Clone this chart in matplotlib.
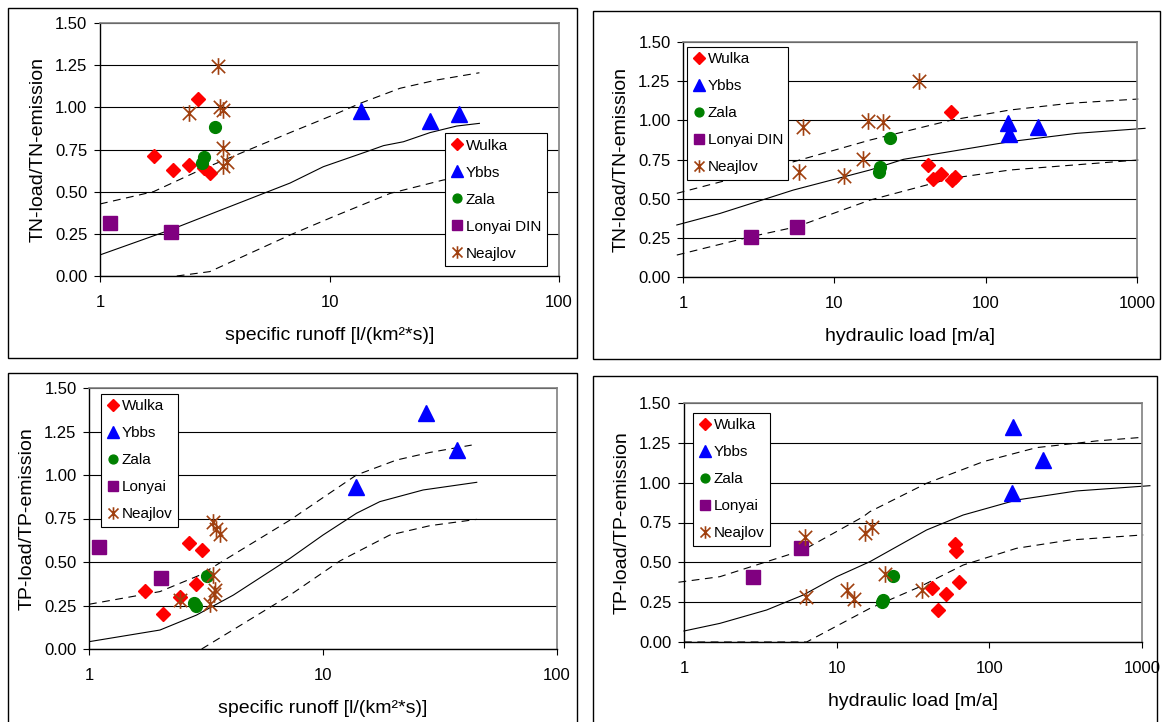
import matplotlib
matplotlib.use('Agg')
import matplotlib.pyplot as plt
import numpy as np
from matplotlib.path import Path
from matplotlib.patches import Rectangle
from matplotlib.ticker import NullLocator

plt.rcParams['font.family'] = ['Liberation Sans', 'DejaVu Sans']

# ---- data: TN ratio vs specific runoff ----
wulka_q1 = [1.72, 2.07, 2.44, 2.68, 2.84, 3.01]
wulka_tn1 = [0.71, 0.63, 0.66, 1.05, 0.64, 0.61]
ybbs_q1 = [13.7, 27.4, 36.8]
ybbs_tn1 = [0.98, 0.92, 0.96]
zala_q1 = [3.17, 2.84, 2.79]
zala_tn1 = [0.885, 0.707, 0.672]
lonyai_q1 = [1.105, 2.04]
lonyai_tn1 = [0.316, 0.263]
neajlov_q1 = [2.45, 3.28, 3.35, 3.42, 3.42, 3.57, 3.42]
neajlov_tn1 = [0.965, 1.247, 1.0, 0.985, 0.757, 0.678, 0.654]
mid_x1 = [1.0, 2.02, 3.1, 6.73, 9.4, 14.5, 17.2, 21, 27.4, 35.8, 45]
mid_y1 = [0.125, 0.273, 0.372, 0.551, 0.648, 0.737, 0.773, 0.796, 0.85, 0.889, 0.905]
up_x1 = [1.0, 1.71, 2.73, 6.73, 10.4, 13.8, 20.3, 29.3, 45]
up_y1 = [0.427, 0.5, 0.628, 0.85, 0.955, 1.027, 1.113, 1.162, 1.205]
low_x1 = [2.16, 3.01, 6.73, 10.4, 18.4, 31.3, 45]
low_y1 = [0.0, 0.026, 0.243, 0.352, 0.49, 0.569, 0.6]

# ---- data: TN ratio vs hydraulic load ----
wulka_h2 = [58.8, 41.8, 45.1, 50.7, 59.7, 62.8]
wulka_tn2 = [1.055, 0.715, 0.626, 0.655, 0.619, 0.636]
ybbs_h2 = [140, 143.5, 223]
ybbs_tn2 = [0.98, 0.91, 0.96]
zala_h2 = [23.3, 20.0, 19.8]
zala_tn2 = [0.885, 0.70, 0.67]
lonyai_h2 = [2.8, 5.69]
lonyai_tn2 = [0.257, 0.317]
neajlov_h2 = [6.24, 5.87, 11.5, 15.4, 16.8, 21.1, 36.5]
neajlov_tn2 = [0.959, 0.672, 0.645, 0.751, 0.998, 0.991, 1.253]
mid_x2 = [0.91, 1.76, 5.36, 17.2, 28.6, 50, 145, 400, 1130]
mid_y2 = [0.332, 0.406, 0.555, 0.683, 0.751, 0.79, 0.864, 0.917, 0.949]
up_x2 = [0.91, 2.64, 17.2, 59.7, 145, 361, 1020]
up_y2 = [0.534, 0.651, 0.874, 1.002, 1.066, 1.109, 1.136]
low_x2 = [0.91, 2.8, 5.65, 17.2, 59.7, 145, 1020]
low_y2 = [0.14, 0.257, 0.321, 0.491, 0.63, 0.683, 0.747]

# ---- data: TP ratio vs specific runoff ----
wulka_q3 = [1.735, 2.08, 2.45, 2.67, 2.88, 3.04]
wulka_tp3 = [0.333, 0.199, 0.297, 0.611, 0.374, 0.569]
ybbs_q3 = [27.6, 37.3, 13.8]
ybbs_tp3 = [1.355, 1.144, 0.933]
zala_q3 = [2.82, 2.87, 3.18]
zala_tp3 = [0.265, 0.25, 0.419]
lonyai_q3 = [1.107, 2.04]
lonyai_tp3 = [0.588, 0.406]
neajlov_q3 = [3.4, 3.49, 3.63, 3.4, 3.45, 3.43, 3.29, 2.45]
neajlov_tp3 = [0.732, 0.69, 0.661, 0.425, 0.339, 0.314, 0.259, 0.282]
mid_x3 = [1.0, 2.01, 2.88, 4.14, 7.23, 10.0, 13.9, 17.5, 26.8, 45.4]
mid_y3 = [0.042, 0.109, 0.195, 0.31, 0.521, 0.655, 0.78, 0.847, 0.914, 0.958]
up_x3 = [1.0, 2.01, 2.98, 7.23, 10.0, 13.9, 20.6, 28.7, 43.2]
up_y3 = [0.257, 0.33, 0.425, 0.741, 0.87, 1.0, 1.086, 1.13, 1.172]
low_x3 = [3.03, 7.23, 11.8, 19.3, 28.7, 45.4]
low_y3 = [0.0, 0.31, 0.506, 0.655, 0.709, 0.745]

# ---- data: TP ratio vs hydraulic load ----
wulka_h4 = [41.9, 45.9, 52, 59.5, 60.4, 63.2]
wulka_tp4 = [0.337, 0.201, 0.299, 0.613, 0.573, 0.375]
ybbs_h4 = [143.5, 225, 140]
ybbs_tp4 = [1.351, 1.142, 0.933]
zala_h4 = [23.5, 20.0, 19.7]
zala_tp4 = [0.416, 0.264, 0.25]
lonyai_h4 = [2.82, 5.81]
lonyai_tp4 = [0.406, 0.588]
neajlov_h4 = [6.2, 6.27, 11.6, 12.9, 15.3, 17.0, 20.7, 36.4]
neajlov_tp4 = [0.661, 0.284, 0.326, 0.27, 0.686, 0.722, 0.425, 0.326]
mid_x4 = [1.0, 1.72, 3.48, 6.04, 10, 16.5, 38.8, 67.4, 150.6, 373, 1127]
mid_y4 = [0.069, 0.117, 0.201, 0.295, 0.41, 0.504, 0.703, 0.797, 0.891, 0.948, 0.981]
up_x4 = [0.92, 1.72, 3.48, 6.04, 14.9, 16.5, 38.8, 91.4, 204, 505, 1019]
up_y4 = [0.375, 0.41, 0.504, 0.577, 0.786, 0.818, 0.996, 1.132, 1.22, 1.262, 1.285]
low_x4 = [1.0, 6.36, 16.5, 35.1, 67.4, 150.6, 337, 1019]
low_y4 = [0.0, 0.0, 0.211, 0.347, 0.483, 0.588, 0.64, 0.672]

W, H = 1162, 722
fig = plt.figure(figsize=(W / 100, H / 100), dpi=100)

# asterisk marker like the spreadsheet one
star = Path([(-0.8, -0.8), (0.8, 0.8), (-0.8, 0.8), (0.8, -0.8), (0, -1), (0, 1)],
            [Path.MOVETO, Path.LINETO] * 3)


def frame(x0, y0, x1, y1):
    fig.add_artist(Rectangle((x0 / W, 1 - y1 / H), (x1 - x0) / W, (y1 - y0) / H,
                             transform=fig.transFigure, fill=False,
                             ec='black', lw=1.0))


def panel(box, xmax, ylabel, xlabel, pts, curves, lonyai_name, leg_anchor, leg_loc, clip):
    l, r, t, b = box
    ax = fig.add_axes([l / W, 1 - b / H, (r - l) / W, (b - t) / H])
    ax.set_xscale('log')
    ax.set_xlim(1, xmax)
    ax.set_ylim(0, 1.5)

    mx, my, ux, uy, lx, ly = curves
    ax.plot(mx, my, color='black', lw=0.8, zorder=2, clip_on=clip)
    for cx, cy in [(ux, uy), (lx, ly)]:
        ln, = ax.plot(cx, cy, color='black', lw=0.8, zorder=2, clip_on=clip)
        ln.set_dashes((7, 5))

    (wx, wy), (yx, yy), (zx, zy), (lox, loy), (nx, ny) = pts
    h1, = ax.plot(wx, wy, ls='none', marker='D', ms=7.5, color='#FF0000', label='Wulka', zorder=3)
    h2, = ax.plot(yx, yy, ls='none', marker='^', ms=11, color='#0000FF', label='Ybbs', zorder=3)
    h3, = ax.plot(zx, zy, ls='none', marker='o', ms=8.5, color='#008000', label='Zala', zorder=3)
    h4, = ax.plot(lox, loy, ls='none', marker='s', ms=9.5, color='#800080', label=lonyai_name, zorder=3)
    h5, = ax.plot(nx, ny, ls='none', marker=star, ms=12, mew=1.2, fillstyle='none',
                  color='#A0400F', label='Neajlov', zorder=3)

    ax.set_yticks(np.arange(0, 1.51, 0.25))
    ax.yaxis.set_major_formatter('{x:.2f}')
    ticks = [t_ for t_ in [1, 10, 100, 1000] if t_ <= xmax]
    ax.set_xticks(ticks)
    ax.set_xticklabels([str(t_) for t_ in ticks])
    ax.xaxis.set_minor_locator(NullLocator())
    ax.grid(axis='y', color='black', lw=0.8)
    ax.set_axisbelow(True)
    for s in ['top', 'right']:
        ax.spines[s].set_color('#808080')
        ax.spines[s].set_linewidth(1.2)
    for s in ['left', 'bottom']:
        ax.spines[s].set_linewidth(1.0)
    ax.tick_params(direction='out', length=4, width=0.8, labelsize=12)
    ax.tick_params(axis='x', pad=10)
    ax.tick_params(axis='y', pad=5)
    ax.set_ylabel(ylabel, fontsize=14, labelpad=6)
    ax.set_xlabel(xlabel, fontsize=14, labelpad=12)

    leg = ax.legend(handles=[h1, h2, h3, h4, h5], loc=leg_loc, bbox_to_anchor=leg_anchor,
                    fontsize=11, markerscale=0.75, handlelength=0.8, handletextpad=0.2,
                    labelspacing=0.85, borderpad=0.35, borderaxespad=0, fancybox=False,
                    framealpha=1, edgecolor='black')
    leg.get_frame().set_linewidth(0.8)
    leg.set_zorder(5)
    return ax


runoff_lbl = 'specific runoff [l/(km²*s)]'
hydr_lbl = 'hydraulic load [m/a]'

panel((100, 559, 23, 276), 100, 'TN-load/TN-emission', runoff_lbl,
      [(wulka_q1, wulka_tn1), (ybbs_q1, ybbs_tn1), (zala_q1, zala_tn1),
       (lonyai_q1, lonyai_tn1), (neajlov_q1, neajlov_tn1)],
      (mid_x1, mid_y1, up_x1, up_y1, low_x1, low_y1), 'Lonyai DIN',
      (0.752, 0.04), 'lower left', True)

panel((683, 1137, 42, 277), 1000, 'TN-load/TN-emission', hydr_lbl,
      [(wulka_h2, wulka_tn2), (ybbs_h2, ybbs_tn2), (zala_h2, zala_tn2),
       (lonyai_h2, lonyai_tn2), (neajlov_h2, neajlov_tn2)],
      (mid_x2, mid_y2, up_x2, up_y2, low_x2, low_y2), 'Lonyai DIN',
      (0.009, 0.979), 'upper left', False)

panel((89, 557, 388, 649), 100, 'TP-load/TP-emission', runoff_lbl,
      [(wulka_q3, wulka_tp3), (ybbs_q3, ybbs_tp3), (zala_q3, zala_tp3),
       (lonyai_q3, lonyai_tp3), (neajlov_q3, neajlov_tp3)],
      (mid_x3, mid_y3, up_x3, up_y3, low_x3, low_y3), 'Lonyai',
      (0.026, 0.977), 'upper left', True)

panel((684, 1142, 403, 642), 1000, 'TP-load/TP-emission', hydr_lbl,
      [(wulka_h4, wulka_tp4), (ybbs_h4, ybbs_tp4), (zala_h4, zala_tp4),
       (lonyai_h4, lonyai_tp4), (neajlov_h4, neajlov_tp4)],
      (mid_x4, mid_y4, up_x4, up_y4, low_x4, low_y4), 'Lonyai',
      (0.020, 0.958), 'upper left', False)

frame(8, 8, 577, 358)
frame(593, 11, 1160, 359)
frame(8, 373, 577, 730)
frame(593, 376, 1157, 730)

fig.savefig('out.png', dpi=100)
